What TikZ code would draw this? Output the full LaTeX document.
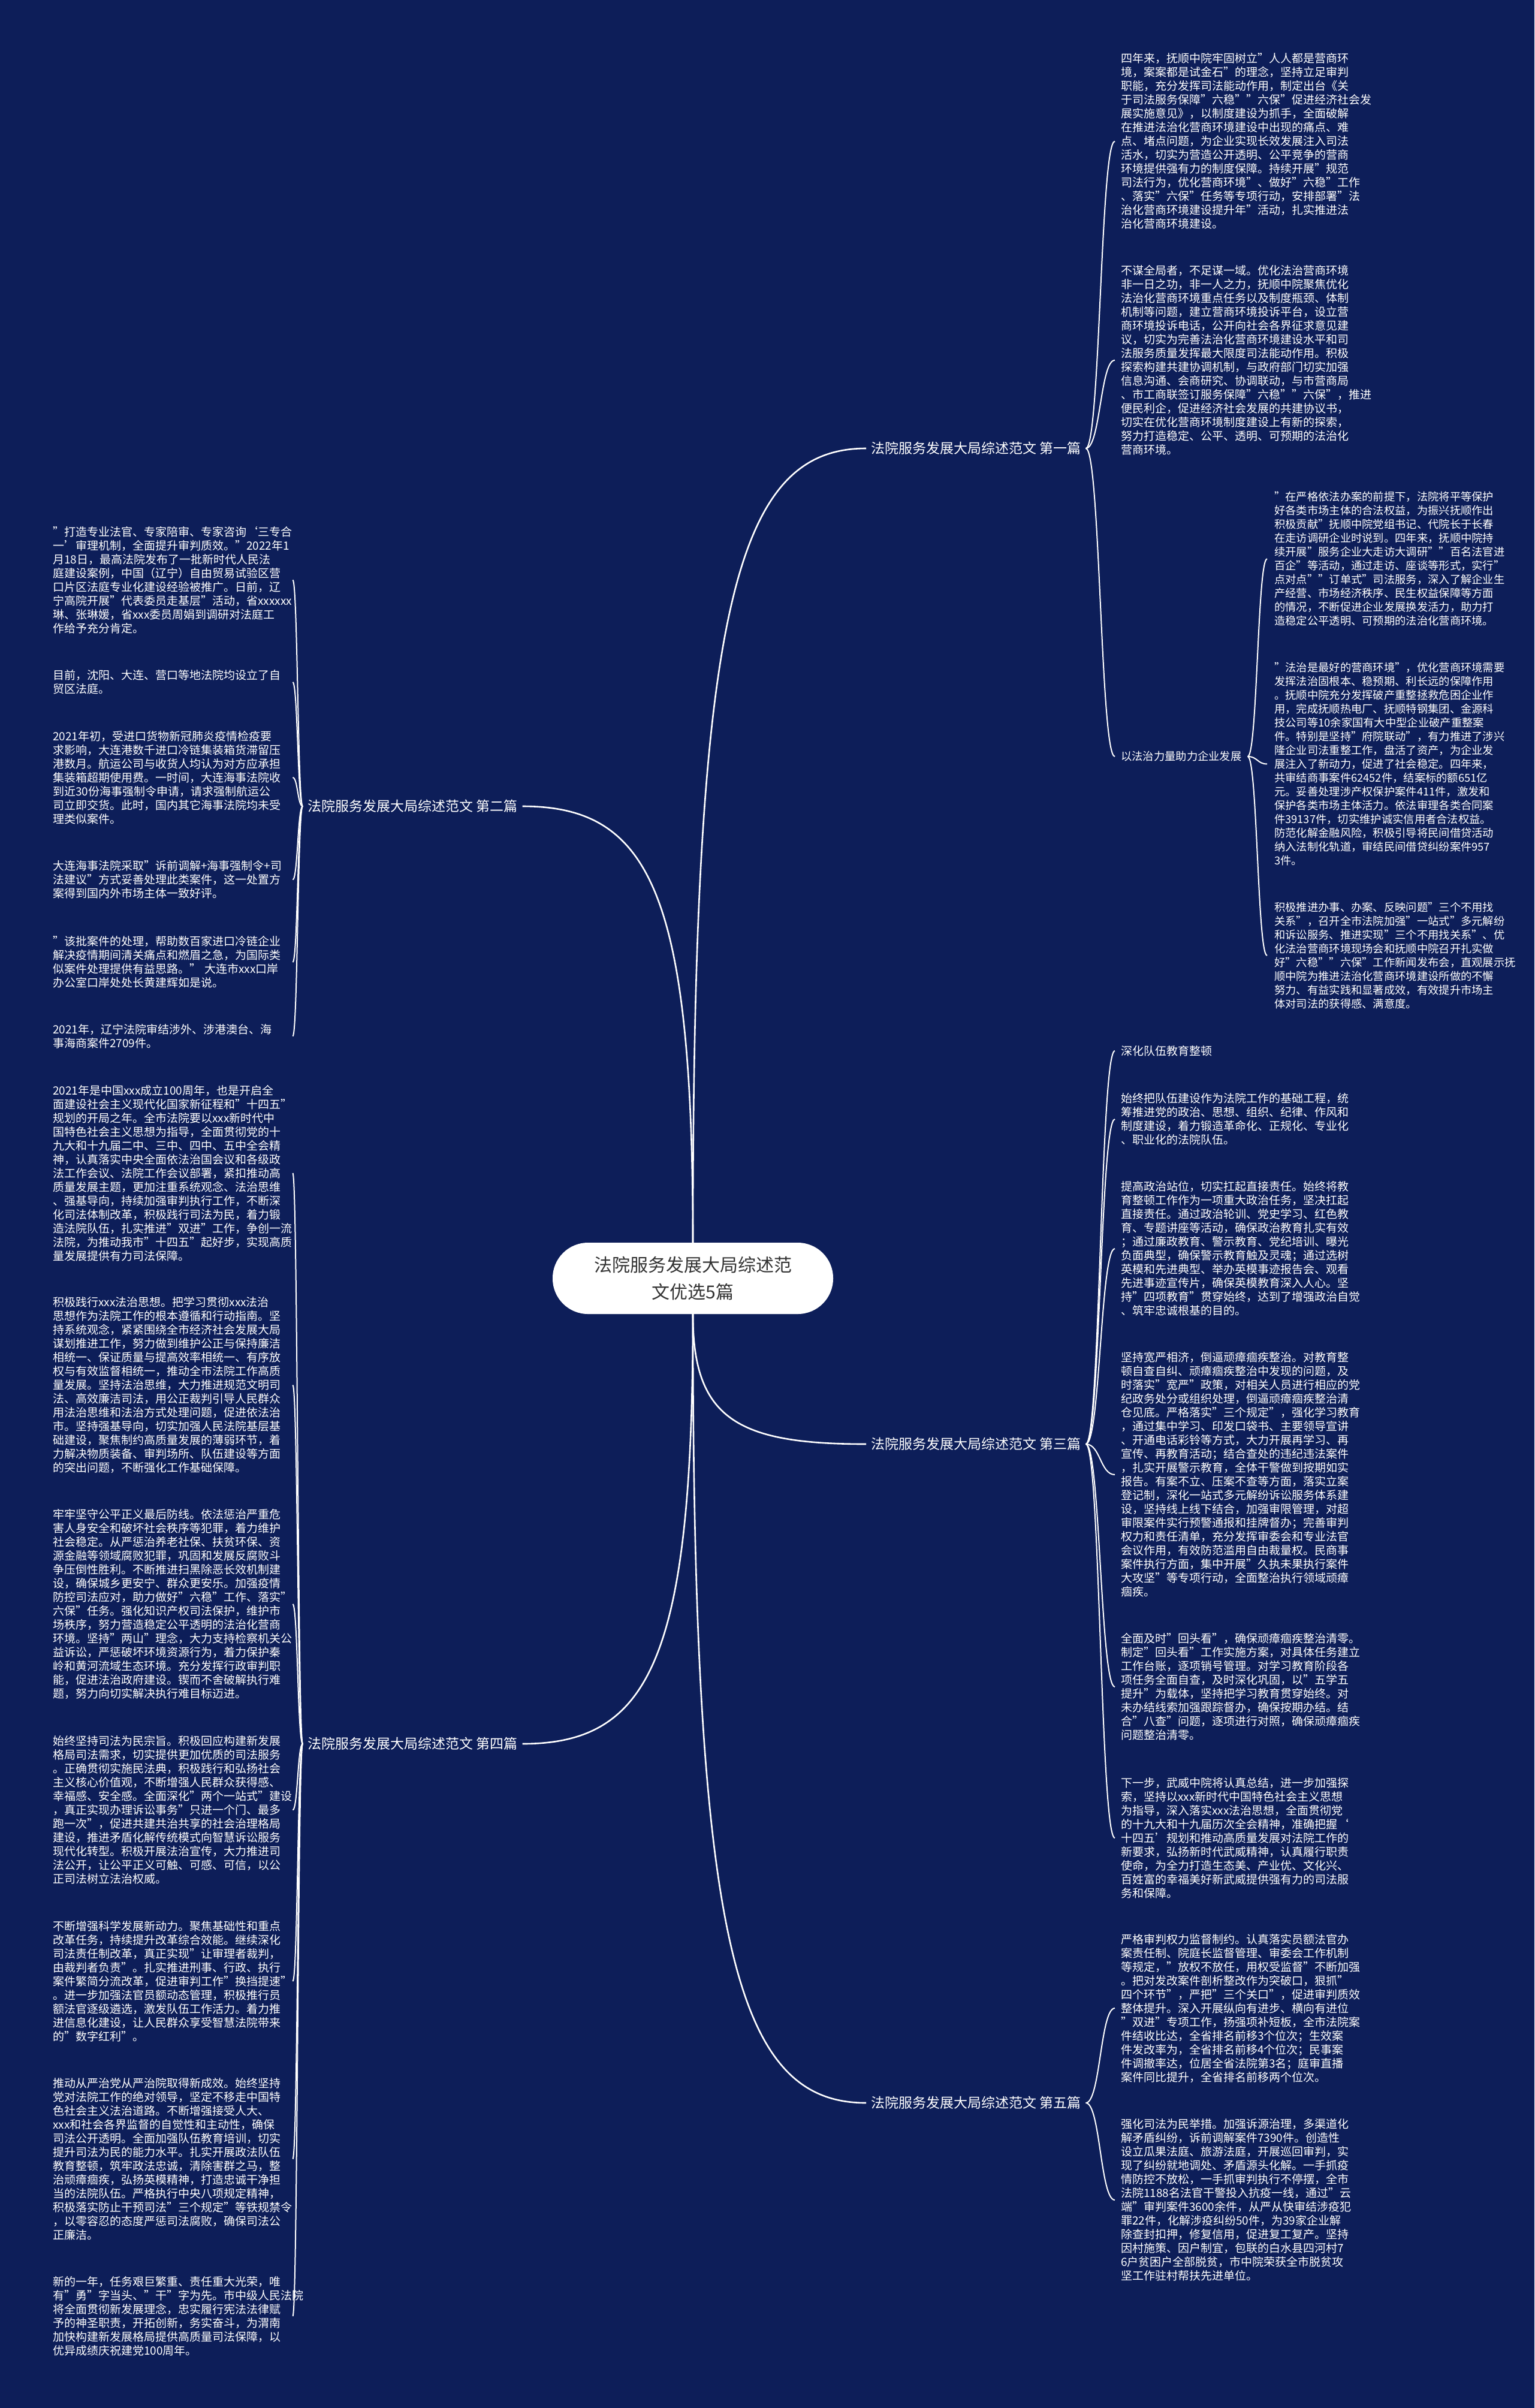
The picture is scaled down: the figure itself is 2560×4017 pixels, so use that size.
\documentclass[tikz,border=0pt]{standalone}
\usepackage{fontspec}
\setmainfont{Noto Sans CJK SC}
\usetikzlibrary{calc}
\definecolor{bgnavy}{RGB}{13,30,89}
\definecolor{titlegray}{RGB}{51,51,51}
\newcommand\sconn[2]{\draw[sline] let \p1=(#1), \p2=(#2) in (\p1) .. controls ({(\x1+\x2)/2},\y1) and ({(\x1+\x2)/2},\y2) .. (\p2);}
\newcommand\mconn[2]{\draw[mline] let \p1=(#1), \p2=(#2) in (\p1) .. controls (\x1,{\y1+0.8*(\y2-\y1)}) and ({\x1+0.25*(\x2-\x1)},\y2) .. (\p2);}
\begin{document}
\begin{tikzpicture}[x=1pt,y=-1pt,
  body/.style={font=\fontsize{19}{23}\selectfont, text=white, align=left, inner xsep=10pt, inner ysep=0pt, anchor=west},
  lbody/.style={body, text width=390pt},
  deep/.style={body, font=\fontsize{18.3}{23}\selectfont, inner xsep=12pt},
  sublabel/.style={body, font=\fontsize{18.3}{23}\selectfont},
  branch/.style={font=\fontsize{23}{27}\selectfont, text=white, inner xsep=8pt, inner ysep=2pt, anchor=west},
  centre/.style={fill=white, rounded corners=59pt, minimum width=468pt, minimum height=119pt, font=\fontsize{30}{45}\selectfont, text=titlegray, align=center, inner sep=0pt},
  sline/.style={draw=white, line width=2pt},
  mline/.style={draw=white, line width=2.6pt}]
\fill[bgnavy] (0,0) rectangle (2560,4017);
\useasboundingbox (0,0) rectangle (2560,4017);

\node[centre] (c) at (1156,2132.5) {法院服务发展大局综述范\\文优选5篇};

\node[branch] (p1) at (1445,748) {法院服务发展大局综述范文 第一篇};
\node[branch] (p2) at (505,1345) {法院服务发展大局综述范文 第二篇};
\node[branch] (p3) at (1445,2409) {法院服务发展大局综述范文 第三篇};
\node[branch] (p4) at (505,2909) {法院服务发展大局综述范文 第四篇};
\node[branch] (p5) at (1445,3508) {法院服务发展大局综述范文 第五篇};

% ---------- first
\node[body] (b1) at (1860,235.7) {四年来，抚顺中院牢固树立"人人都是营商环\\
境，案案都是试金石"的理念，坚持立足审判\\
职能，充分发挥司法能动作用，制定出台《关\\
于司法服务保障"六稳""六保"促进经济社会发\\
展实施意见》，以制度建设为抓手，全面破解\\
在推进法治化营商环境建设中出现的痛点、难\\
点、堵点问题，为企业实现长效发展注入司法\\
活水，切实为营造公开透明、公平竞争的营商\\
环境提供强有力的制度保障。持续开展"规范\\
司法行为，优化营商环境"、做好"六稳"工作\\
、落实"六保"任务等专项行动，安排部署"法\\
治化营商环境建设提升年"活动，扎实推进法\\
治化营商环境建设。};
\node[body] (b2) at (1860,600.9) {不谋全局者，不足谋一域。优化法治营商环境\\
非一日之功，非一人之力，抚顺中院聚焦优化\\
法治化营商环境重点任务以及制度瓶颈、体制\\
机制等问题，建立营商环境投诉平台，设立营\\
商环境投诉电话，公开向社会各界征求意见建\\
议，切实为完善法治化营商环境建设水平和司\\
法服务质量发挥最大限度司法能动作用。积极\\
探索构建共建协调机制，与政府部门切实加强\\
信息沟通、会商研究、协调联动，与市营商局\\
、市工商联签订服务保障"六稳""六保"，推进\\
便民利企，促进经济社会发展的共建协议书，\\
切实在优化营商环境制度建设上有新的探索，\\
努力打造稳定、公平、透明、可预期的法治化\\
营商环境。};
\node[sublabel] (s1) at (1860,1262) {以法治力量助力企业发展};
\node[deep] (b3) at (2114,932.2) {"在严格依法办案的前提下，法院将平等保护\\
好各类市场主体的合法权益，为振兴抚顺作出\\
积极贡献"抚顺中院党组书记、代院长于长春\\
在走访调研企业时说到。四年来，抚顺中院持\\
续开展"服务企业大走访大调研""百名法官进\\
百企"等活动，通过走访、座谈等形式，实行"\\
点对点""订单式"司法服务，深入了解企业生\\
产经营、市场经济秩序、民生权益保障等方面\\
的情况，不断促进企业发展换发活力，助力打\\
造稳定公平透明、可预期的法治化营商环境。};
\node[deep] (b4) at (2114,1274.5) {"法治是最好的营商环境"，优化营商环境需要\\
发挥法治固根本、稳预期、利长远的保障作用\\
。抚顺中院充分发挥破产重整拯救危困企业作\\
用，完成抚顺热电厂、抚顺特钢集团、金源科\\
技公司等10余家国有大中型企业破产重整案\\
件。特别是坚持"府院联动"，有力推进了涉兴\\
隆企业司法重整工作，盘活了资产，为企业发\\
展注入了新动力，促进了社会稳定。四年来，\\
共审结商事案件62452件，结案标的额651亿\\
元。妥善处理涉产权保护案件411件，激发和\\
保护各类市场主体活力。依法审理各类合同案\\
件39137件，切实维护诚实信用者合法权益。\\
防范化解金融风险，积极引导将民间借贷活动\\
纳入法制化轨道，审结民间借贷纠纷案件957\\
3件。};
\node[deep] (b5) at (2114,1594) {积极推进办事、办案、反映问题"三个不用找\\
关系"，召开全市法院加强"一站式"多元解纷\\
和诉讼服务、推进实现"三个不用找关系"、优\\
化法治营商环境现场会和抚顺中院召开扎实做\\
好"六稳""六保"工作新闻发布会，直观展示抚\\
顺中院为推进法治化营商环境建设所做的不懈\\
努力、有益实践和显著成效，有效提升市场主\\
体对司法的获得感、满意度。};

% ---------- third
\node[body] (s3) at (1860,1753) {深化队伍教育整顿};
\node[body] (b6) at (1860,1867) {始终把队伍建设作为法院工作的基础工程，统\\
筹推进党的政治、思想、组织、纪律、作风和\\
制度建设，着力锻造革命化、正规化、专业化\\
、职业化的法院队伍。};
\node[body] (b7) at (1860,2083) {提高政治站位，切实扛起直接责任。始终将教\\
育整顿工作作为一项重大政治任务，坚决扛起\\
直接责任。通过政治轮训、党史学习、红色教\\
育、专题讲座等活动，确保政治教育扎实有效\\
；通过廉政教育、警示教育、党纪培训、曝光\\
负面典型，确保警示教育触及灵魂；通过选树\\
英模和先进典型、举办英模事迹报告会、观看\\
先进事迹宣传片，确保英模教育深入人心。坚\\
持"四项教育"贯穿始终，达到了增强政治自觉\\
、筑牢忠诚根基的目的。};
\node[body] (b8) at (1860,2460) {坚持宽严相济，倒逼顽瘴痼疾整治。对教育整\\
顿自查自纠、顽瘴痼疾整治中发现的问题，及\\
时落实"宽严"政策，对相关人员进行相应的党\\
纪政务处分或组织处理，倒逼顽瘴痼疾整治清\\
仓见底。严格落实"三个规定"，强化学习教育\\
，通过集中学习、印发口袋书、主要领导宣讲\\
、开通电话彩铃等方式，大力开展再学习、再\\
宣传、再教育活动；结合查处的违纪违法案件\\
，扎实开展警示教育，全体干警做到按期如实\\
报告。有案不立、压案不查等方面，落实立案\\
登记制，深化一站式多元解纷诉讼服务体系建\\
设，坚持线上线下结合，加强审限管理，对超\\
审限案件实行预警通报和挂牌督办；完善审判\\
权力和责任清单，充分发挥审委会和专业法官\\
会议作用，有效防范滥用自由裁量权。民商事\\
案件执行方面，集中开展"久执未果执行案件\\
大攻坚"等专项行动，全面整治执行领域顽瘴\\
痼疾。};
\node[body] (b9) at (1860,2814) {全面及时"回头看"，确保顽瘴痼疾整治清零。\\
制定"回头看"工作实施方案，对具体任务建立\\
工作台账，逐项销号管理。对学习教育阶段各\\
项任务全面自查，及时深化巩固，以"五学五\\
提升"为载体，坚持把学习教育贯穿始终。对\\
未办结线索加强跟踪督办，确保按期办结。结\\
合"八查"问题，逐项进行对照，确保顽瘴痼疾\\
问题整治清零。};
\node[body] (b10) at (1860,3066) {下一步，武威中院将认真总结，进一步加强探\\
索，坚持以xxx新时代中国特色社会主义思想\\
为指导，深入落实xxx法治思想，全面贯彻党\\
的十九大和十九届历次全会精神，准确把握‘\\
十四五’规划和推动高质量发展对法院工作的\\
新要求，弘扬新时代武威精神，认真履行职责\\
使命，为全力打造生态美、产业优、文化兴、\\
百姓富的幸福美好新武威提供强有力的司法服\\
务和保障。};

% ---------- fifth
\node[body] (b11) at (1860,3350) {严格审判权力监督制约。认真落实员额法官办\\
案责任制、院庭长监督管理、审委会工作机制\\
等规定，"放权不放任，用权受监督"不断加强\\
。把对发改案件剖析整改作为突破口，狠抓"\\
四个环节"，严把"三个关口"，促进审判质效\\
整体提升。深入开展纵向有进步、横向有进位\\
"双进"专项工作，扬强项补短板，全市法院案\\
件结收比达，全省排名前移3个位次；生效案\\
件发改率为，全省排名前移4个位次；民事案\\
件调撤率达，位居全省法院第3名；庭审直播\\
案件同比提升，全省排名前移两个位次。};
\node[body] (b12) at (1860,3670) {强化司法为民举措。加强诉源治理，多渠道化\\
解矛盾纠纷，诉前调解案件7390件。创造性\\
设立瓜果法庭、旅游法庭，开展巡回审判，实\\
现了纠纷就地调处、矛盾源头化解。一手抓疫\\
情防控不放松，一手抓审判执行不停摆，全市\\
法院1188名法官干警投入抗疫一线，通过"云\\
端"审判案件3600余件，从严从快审结涉疫犯\\
罪22件，化解涉疫纠纷50件，为39家企业解\\
除查封扣押，修复信用，促进复工复产。坚持\\
因村施策、因户制宜，包联的白水县四河村7\\
6户贫困户全部脱贫，市中院荣获全市脱贫攻\\
坚工作驻村帮扶先进单位。};

% ---------- second
\node[lbody] (l1) at (78,967.5) {"打造专业法官、专家陪审、专家咨询‘三专合\\
一’审理机制，全面提升审判质效。"2022年1\\
月18日，最高法院发布了一批新时代人民法\\
庭建设案例，中国（辽宁）自由贸易试验区营\\
口片区法庭专业化建设经验被推广。日前，辽\\
宁高院开展"代表委员走基层"活动，省xxxxxx\\
琳、张琳媛，省xxx委员周娟到调研对法庭工\\
作给予充分肯定。};
\node[lbody] (l2) at (78,1138) {目前，沈阳、大连、营口等地法院均设立了自\\
贸区法庭。};
\node[lbody] (l3) at (78,1297) {2021年初，受进口货物新冠肺炎疫情检疫要\\
求影响，大连港数千进口冷链集装箱货滞留压\\
港数月。航运公司与收货人均认为对方应承担\\
集装箱超期使用费。一时间，大连海事法院收\\
到近30份海事强制令申请，请求强制航运公\\
司立即交货。此时，国内其它海事法院均未受\\
理类似案件。};
\node[lbody] (l4) at (78,1467.5) {大连海事法院采取"诉前调解+海事强制令+司\\
法建议"方式妥善处理此类案件，这一处置方\\
案得到国内外市场主体一致好评。};
\node[lbody] (l5) at (78,1605) {"该批案件的处理，帮助数百家进口冷链企业\\
解决疫情期间清关痛点和燃眉之急，为国际类\\
似案件处理提供有益思路。" 大连市xxx口岸\\
办公室口岸处处长黄建辉如是说。};
\node[lbody] (l6) at (78,1728.6) {2021年，辽宁法院审结涉外、涉港澳台、海\\
事海商案件2709件。};

% ---------- fourth
\node[lbody] (l7) at (78,1957) {2021年是中国xxx成立100周年，也是开启全\\
面建设社会主义现代化国家新征程和"十四五"\\
规划的开局之年。全市法院要以xxx新时代中\\
国特色社会主义思想为指导，全面贯彻党的十\\
九大和十九届二中、三中、四中、五中全会精\\
神，认真落实中央全面依法治国会议和各级政\\
法工作会议、法院工作会议部署，紧扣推动高\\
质量发展主题，更加注重系统观念、法治思维\\
、强基导向，持续加强审判执行工作，不断深\\
化司法体制改革，积极践行司法为民，着力锻\\
造法院队伍，扎实推进"双进"工作，争创一流\\
法院，为推动我市"十四五"起好步，实现高质\\
量发展提供有力司法保障。};
\node[lbody] (l8) at (78,2310.5) {积极践行xxx法治思想。把学习贯彻xxx法治\\
思想作为法院工作的根本遵循和行动指南。坚\\
持系统观念，紧紧围绕全市经济社会发展大局\\
谋划推进工作，努力做到维护公正与保持廉洁\\
相统一、保证质量与提高效率相统一、有序放\\
权与有效监督相统一，推动全市法院工作高质\\
量发展。坚持法治思维，大力推进规范文明司\\
法、高效廉洁司法，用公正裁判引导人民群众\\
用法治思维和法治方式处理问题，促进依法治\\
市。坚持强基导向，切实加强人民法院基层基\\
础建设，聚焦制约高质量发展的薄弱环节，着\\
力解决物质装备、审判场所、队伍建设等方面\\
的突出问题，不断强化工作基础保障。};
\node[lbody] (l9) at (78,2676) {牢牢坚守公平正义最后防线。依法惩治严重危\\
害人身安全和破坏社会秩序等犯罪，着力维护\\
社会稳定。从严惩治养老社保、扶贫环保、资\\
源金融等领域腐败犯罪，巩固和发展反腐败斗\\
争压倒性胜利。不断推进扫黑除恶长效机制建\\
设，确保城乡更安宁、群众更安乐。加强疫情\\
防控司法应对，助力做好"六稳"工作、落实"\\
六保"任务。强化知识产权司法保护，维护市\\
场秩序，努力营造稳定公平透明的法治化营商\\
环境。坚持"两山"理念，大力支持检察机关公\\
益诉讼，严惩破坏环境资源行为，着力保护秦\\
岭和黄河流域生态环境。充分发挥行政审判职\\
能，促进法治政府建设。锲而不舍破解执行难\\
题，努力向切实解决执行难目标迈进。};
\node[lbody] (l10) at (78,3019.5) {始终坚持司法为民宗旨。积极回应构建新发展\\
格局司法需求，切实提供更加优质的司法服务\\
。正确贯彻实施民法典，积极践行和弘扬社会\\
主义核心价值观，不断增强人民群众获得感、\\
幸福感、安全感。全面深化"两个一站式"建设\\
，真正实现办理诉讼事务"只进一个门、最多\\
跑一次"，促进共建共治共享的社会治理格局\\
建设，推进矛盾化解传统模式向智慧诉讼服务\\
现代化转型。积极开展法治宣传，大力推进司\\
法公开，让公平正义可触、可感、可信，以公\\
正司法树立法治权威。};
\node[lbody] (l11) at (78,3305) {不断增强科学发展新动力。聚焦基础性和重点\\
改革任务，持续提升改革综合效能。继续深化\\
司法责任制改革，真正实现"让审理者裁判，\\
由裁判者负责"。扎实推进刑事、行政、执行\\
案件繁简分流改革，促进审判工作"换挡提速"\\
。进一步加强法官员额动态管理，积极推行员\\
额法官逐级遴选，激发队伍工作活力。着力推\\
进信息化建设，让人民群众享受智慧法院带来\\
的"数字红利"。};
\node[lbody] (l12) at (78,3601.5) {推动从严治党从严治院取得新成效。始终坚持\\
党对法院工作的绝对领导，坚定不移走中国特\\
色社会主义法治道路。不断增强接受人大、\\
xxx和社会各界监督的自觉性和主动性，确保\\
司法公开透明。全面加强队伍教育培训，切实\\
提升司法为民的能力水平。扎实开展政法队伍\\
教育整顿，筑牢政法忠诚，清除害群之马，整\\
治顽瘴痼疾，弘扬英模精神，打造忠诚干净担\\
当的法院队伍。严格执行中央八项规定精神，\\
积极落实防止干预司法"三个规定"等铁规禁令\\
，以零容忍的态度严惩司法腐败，确保司法公\\
正廉洁。};
\node[lbody] (l13) at (78,3863.7) {新的一年，任务艰巨繁重、责任重大光荣，唯\\
有"勇"字当头、"干"字为先。市中级人民法院\\
将全面贯彻新发展理念，忠实履行宪法法律赋\\
予的神圣职责，开拓创新，务实奋斗，为渭南\\
加快构建新发展格局提供高质量司法保障，以\\
优异成绩庆祝建党100周年。};

% ---------- connectors
\mconn{c.north}{p1.west}
\mconn{c.north}{p2.east}
\mconn{c.south}{p3.west}
\mconn{c.south}{p4.east}
\mconn{c.south}{p5.west}

\sconn{p1.east}{b1.west}
\sconn{p1.east}{b2.west}
\sconn{p1.east}{s1.west}
\sconn{s1.east}{b3.west}
\sconn{s1.east}{b4.west}
\sconn{s1.east}{b5.west}

\sconn{p3.east}{s3.west}
\sconn{p3.east}{b6.west}
\sconn{p3.east}{b7.west}
\sconn{p3.east}{b8.west}
\sconn{p3.east}{b9.west}
\sconn{p3.east}{b10.west}

\sconn{p5.east}{b11.west}
\sconn{p5.east}{b12.west}

\sconn{p2.west}{l1.east}
\sconn{p2.west}{l2.east}
\sconn{p2.west}{l3.east}
\sconn{p2.west}{l4.east}
\sconn{p2.west}{l5.east}
\sconn{p2.west}{l6.east}

\sconn{p4.west}{l7.east}
\sconn{p4.west}{l8.east}
\sconn{p4.west}{l9.east}
\sconn{p4.west}{l10.east}
\sconn{p4.west}{l11.east}
\sconn{p4.west}{l12.east}
\sconn{p4.west}{l13.east}
\end{tikzpicture}
\end{document}
